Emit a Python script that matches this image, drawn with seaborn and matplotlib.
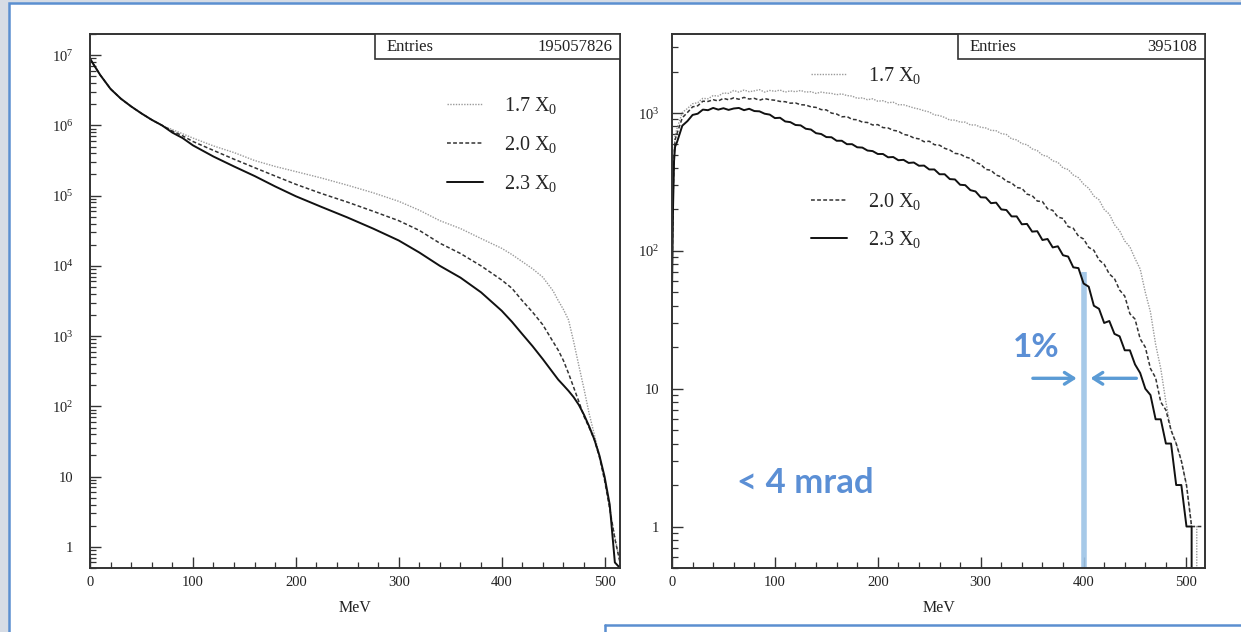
import numpy as np
import pandas as pd
import seaborn as sns
import matplotlib.pyplot as plt
from matplotlib.patches import Rectangle
from matplotlib.lines import Line2D
from matplotlib.ticker import FuncFormatter, MultipleLocator, LogLocator, NullFormatter

# left panel: full photon spectrum, all angles
energy_all = [0, 5, 10, 20, 30, 40, 50, 60, 70, 80, 90, 100, 120, 140, 160, 180, 200,
              225, 250, 275, 300, 320, 340, 360, 380, 400, 410, 420, 430, 440, 450,
              455, 460, 465, 470, 475, 480, 485, 490, 495, 500, 505, 510, 515]
all_17 = [8.9e6, 6.8e6, 5.2e6, 3.3e6, 2.4e6, 1.86e6, 1.48e6, 1.2e6, 1.0e6, 8.7e5, 7.6e5, 6.6e5,
          5.1e5, 4.1e5, 3.16e5, 2.6e5, 2.2e5, 1.78e5, 1.41e5, 1.10e5, 8.3e4,
          6.2e4, 4.4e4, 3.4e4, 2.45e4, 1.78e4, 1.45e4, 1.15e4, 9.1e3, 6.9e3, 4.4e3,
          3.2e3, 2.4e3, 1.7e3, 830, 380, 178, 79, 40, 20, 8.9, 3.5, 1.4, 0.6]
all_20 = [8.9e6, 6.8e6, 5.2e6, 3.3e6, 2.4e6, 1.86e6, 1.48e6, 1.2e6, 1.0e6, 8.3e5, 7.1e5, 5.9e5,
          4.4e5, 3.3e5, 2.5e5, 1.9e5, 1.45e5, 1.07e5, 8.1e4, 6.0e4, 4.4e4,
          3.2e4, 2.1e4, 1.5e4, 1.0e4, 6.3e3, 4.8e3, 3.2e3, 2.2e3, 1.45e3, 830,
          630, 450, 295, 186, 117, 72, 50, 34, 19, 8.9, 3.5, 1.3, 0.6]
all_23 = [8.9e6, 6.8e6, 5.2e6, 3.3e6, 2.4e6, 1.86e6, 1.48e6, 1.2e6, 1.0e6, 7.9e5, 6.6e5, 5.2e5,
          3.6e5, 2.6e5, 1.9e5, 1.35e5, 9.8e4, 6.9e4, 4.9e4, 3.4e4, 2.3e4,
          1.55e4, 1.0e4, 6.8e3, 4.2e3, 2.3e3, 1.6e3, 1.07e3, 720, 470, 300,
          240, 200, 166, 135, 105, 76, 52, 34, 20, 10, 4, 0.6, 0.5]

# right panel: photons within 4 mrad
energy_cut = [0, 1, 2, 3] + list(range(5, 520, 5))
cut_17 = [60, 240, 520, 690, 780,
          1010, 1080, 1170, 1190, 1280, 1270, 1340, 1330, 1400, 1390, 1460, 1420, 1470, 1430, 1450, 1480, 1420, 1460, 1440,
          1470, 1420, 1450, 1430, 1460, 1420, 1430, 1390, 1420, 1400, 1390, 1360, 1380, 1340, 1330, 1280, 1290, 1250, 1270, 1220,
          1230, 1190, 1200, 1150, 1150, 1120, 1090, 1070, 1040, 1020, 970, 960, 930, 890, 890, 860, 860, 820, 820, 790,
          780, 750, 745, 710, 700, 650, 640, 600, 590, 550, 535, 495, 485, 450, 440, 400, 390, 355, 340, 305,
          285, 250, 235, 200, 185, 155, 140, 118, 107, 88, 74, 50, 36, 21, 14, 8, 5, 4, 3, 2,
          1, 1, 0]
cut_20 = [55, 225, 495, 640, 715,
          925, 1010, 1110, 1130, 1220, 1215, 1250, 1225, 1280, 1250, 1290, 1260, 1300, 1265, 1280, 1240, 1275, 1250, 1240,
          1215, 1210, 1180, 1185, 1150, 1145, 1110, 1100, 1060, 1055, 1000, 985, 940, 945, 900, 895, 860, 855, 820, 825,
          785, 780, 750, 740, 700, 690, 660, 650, 620, 625, 590, 585, 555, 540, 510, 505, 480, 470, 440, 425,
          390, 385, 355, 345, 320, 312, 288, 285, 258, 252, 230, 228, 202, 197, 176, 172, 150, 146, 128, 122,
          106, 101, 86, 80, 68, 63, 52, 47, 35, 32, 23, 20, 14, 12, 8, 7, 5, 4, 3, 2,
          1, 1, 1]
cut_23 = [50, 205, 450, 570, 620,
          810, 875, 970, 990, 1060, 1050, 1090, 1060, 1085, 1055, 1080, 1090, 1050, 1075, 1035, 1030, 990, 975, 920,
          925, 870, 860, 820, 815, 770, 760, 715, 705, 670, 668, 630, 630, 595, 595, 565, 562, 535, 530, 505,
          505, 478, 480, 455, 458, 435, 438, 415, 416, 390, 390, 360, 360, 332, 330, 302, 300, 276, 270, 245,
          244, 222, 224, 200, 198, 178, 178, 156, 157, 138, 139, 120, 122, 106, 108, 93, 91, 76, 75, 58,
          55, 40, 38, 30, 31, 25, 24, 19, 19, 15, 13, 10, 9, 6, 6, 4, 4, 2, 2, 1,
          1, 0, 0]

thickness = ["1.7", "2.0", "2.3"]
entries = ["195057826", "395108"]

sns.set_theme(style="ticks")
plt.rcParams["font.family"] = ["Liberation Serif", "DejaVu Serif"]
plt.rcParams["mathtext.fontset"] = "custom"
plt.rcParams["mathtext.rm"] = "Liberation Serif"
plt.rcParams["mathtext.it"] = "Liberation Serif:italic"

styles = {
    "1.7": dict(color="#9a9a9a", linestyle=(0, (1, 1)), linewidth=1.0),
    "2.0": dict(color="#333333", linestyle=(0, (2.5, 1.5)), linewidth=1.1),
    "2.3": dict(color="#111111", linestyle="-", linewidth=1.4),
}
blue = "#5b8fd5"
frame = "#333333"

fig = plt.figure(figsize=(12.41, 6.32), dpi=100)
fig.patch.set_facecolor("#d6dce5")
fig.add_artist(Rectangle((9 / 1241, -0.05), 1.1, 1.05 - 3 / 632, transform=fig.transFigure,
                         facecolor="white", edgecolor="#5b8fd0", linewidth=1.8, zorder=-5))
y_box = 1 - 625 / 632
fig.add_artist(Line2D([605 / 1241, 1.01], [y_box, y_box], transform=fig.transFigure,
                      color="#5b8fd0", linewidth=1.8, zorder=-4))
fig.add_artist(Line2D([605 / 1241, 605 / 1241], [y_box, -0.01], transform=fig.transFigure,
                      color="#5b8fd0", linewidth=1.8, zorder=-4))

ax1 = fig.add_axes([90 / 1241, 1 - 568 / 632, 530 / 1241, 534 / 632])
ax2 = fig.add_axes([672 / 1241, 1 - 568 / 632, 533 / 1241, 534 / 632])

for t, ys in zip(thickness, [all_17, all_20, all_23]):
    sns.lineplot(x=energy_all, y=ys, ax=ax1, estimator=None, errorbar=None,
                 label=r"%s X$_0$" % t, **styles[t])
for t, ys in zip(thickness, [cut_17, cut_20, cut_23]):
    sns.lineplot(x=energy_cut, y=ys, ax=ax2, estimator=None, errorbar=None,
                 label=r"%s X$_0$" % t, **styles[t])


def decade_label(v, pos):
    if v == 1:
        return "1"
    if v == 10:
        return "10"
    return r"10$^{%d}$" % round(np.log10(v))


for ax, xmax, ylim, pad in [(ax1, 515, (0.5, 2.0e7), 12), (ax2, 518, (0.5, 3750), 9)]:
    ax.set_yscale("log")
    ax.set_xlim(0, xmax)
    ax.set_ylim(*ylim)
    ax.xaxis.set_major_locator(MultipleLocator(100))
    ax.xaxis.set_minor_locator(MultipleLocator(20))
    ax.yaxis.set_major_locator(LogLocator(base=10, numticks=20))
    ax.yaxis.set_minor_locator(LogLocator(base=10, subs=np.arange(2, 10), numticks=20))
    ax.yaxis.set_major_formatter(FuncFormatter(decade_label))
    ax.yaxis.set_minor_formatter(NullFormatter())
    ax.tick_params(which="major", direction="in", length=8, width=1.0, color=frame,
                   labelsize=10.5, labelcolor="#222222")
    ax.tick_params(axis="y", which="major", pad=pad)
    ax.tick_params(axis="x", which="major", pad=6)
    ax.tick_params(which="minor", direction="in", length=4, width=0.9, color=frame)
    for s in ax.spines.values():
        s.set_color(frame)
        s.set_linewidth(1.4)
    ax.set_xlabel("MeV", fontsize=11.5, color="#222222", labelpad=8)
    ax.set_ylabel(None)
    ax.set_facecolor("white")

# statistics boxes
for ax, n in zip([ax1, ax2], entries):
    ax.add_patch(Rectangle((0.537, 0.953), 0.463, 0.047, transform=ax.transAxes,
                           facecolor="white", edgecolor=frame, linewidth=1.2, zorder=5))
    ax.text(0.559, 0.976, "Entries", transform=ax.transAxes, fontsize=12,
            va="center", ha="left", color="#222222", zorder=6)
    ax.text(0.986, 0.976, n, transform=ax.transAxes, fontsize=12,
            va="center", ha="right", color="#222222", zorder=6)

leg_kw = dict(frameon=False, fontsize=14.5, handlelength=1.8, handletextpad=1.0,
              borderpad=0, borderaxespad=0, loc="upper left")
h1 = ax1.get_lines()
ax1.legend(h1, [l.get_label() for l in h1], bbox_to_anchor=(0.674, 0.886),
           labelspacing=0.9, **leg_kw)
h2 = ax2.get_lines()
lg_top = ax2.legend(h2[:1], [h2[0].get_label()], bbox_to_anchor=(0.261, 0.942), **leg_kw)
ax2.add_artist(lg_top)
ax2.legend(h2[1:], [l.get_label() for l in h2[1:]], bbox_to_anchor=(0.261, 0.706),
           labelspacing=0.85, **leg_kw)

# 1% marker at 400 MeV
ax2.vlines(400, 0.1, 70, color="#9dc3e6", linewidth=4, alpha=0.9, zorder=1.5)
arrow = dict(arrowstyle="->,head_length=0.55,head_width=0.35", color="#5b9bd5", lw=2.4)
ax2.annotate("", xy=(396, 11.9), xytext=(348, 11.9), arrowprops=arrow)
ax2.annotate("", xy=(404, 11.9), xytext=(454, 11.9), arrowprops=arrow)
ax2.text(354, 20, "1%", fontsize=24, fontweight="bold", color=blue,
         family=["Lato", "DejaVu Sans"], ha="center", va="center")
ax2.text(130, 2.06, "< 4 mrad", fontsize=25, fontweight="bold", color=blue,
         family=["Lato", "DejaVu Sans"], ha="center", va="center")

fig.savefig("out.png", dpi=100, facecolor=fig.get_facecolor())
